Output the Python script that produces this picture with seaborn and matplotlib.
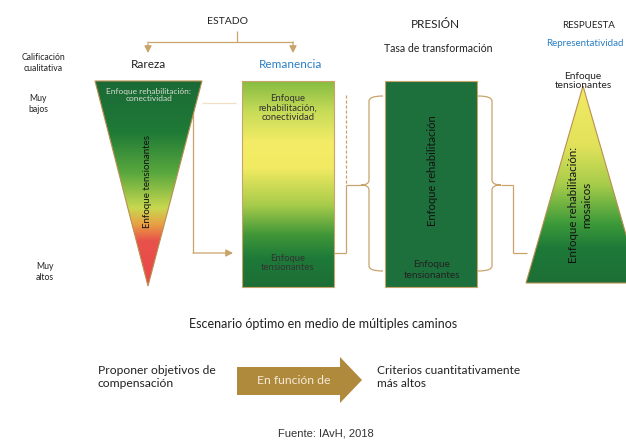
import matplotlib
matplotlib.use("Agg")
import matplotlib.pyplot as plt
import numpy as np
import seaborn as sns
from matplotlib.patches import Polygon, Rectangle, PathPatch
from matplotlib.path import Path
from matplotlib.colors import LinearSegmentedColormap

# --- content of the diagram ---
headers = ["ESTADO", "PRESIÓN", "RESPUESTA"]
sub_headers = ["Rareza", "Remanencia", "Tasa de transformación", "Representatividad"]
row_labels = ["Calificación\ncualitativa", "Muy\nbajos", "Muy\naltos"]
rareza_texts = ["Enfoque rehabilitación:\nconectividad", "Enfoque tensionantes"]
remanencia_texts = ["Enfoque\nrehabilitación,\nconectividad", "Enfoque\ntensionantes"]
presion_texts = ["Enfoque rehabilitación", "Enfoque\ntensionantes"]
respuesta_texts = ["Enfoque\ntensionantes", "Enfoque rehabilitación:\nmosaicos"]
bottom_title = "Escenario óptimo en medio de múltiples caminos"
bottom_left = "Proponer objetivos de\ncompensación"
arrow_label = "En función de"
bottom_right = "Criterios cuantitativamente\nmás altos"
source = "Fuente: IAvH, 2018"

# colour stops (position from top, colour)
rareza_stops = [(0.0, "#1b6a36"), (0.25, "#1f7a36"), (0.45, "#5aa83e"),
                (0.62, "#c8d850"), (0.70, "#e8a044"), (0.78, "#e8524a"), (1.0, "#e84848")]
remanencia_stops = [(0.0, "#86bc42"), (0.15, "#c8dc58"), (0.30, "#f4ec66"), (0.42, "#f2ea62"),
                    (0.60, "#a8cc4a"), (0.75, "#3f9638"), (0.86, "#1e7a38"), (1.0, "#1d6e36")]
respuesta_stops = [(0.0, "#f2ea64"), (0.30, "#e2e25a"), (0.50, "#a6cc4a"),
                   (0.70, "#3c9a3a"), (0.82, "#1e7a38"), (1.0, "#1d6e36")]
presion_color = "#1d6f3b"

GOLD = "#c8a46a"
BLUE = "#2a7fc4"
TXT = "#222222"

sns.set_theme(style="white")
plt.rcParams["font.family"] = ["Lato", "DejaVu Sans"]

fig = plt.figure(figsize=(6.26, 4.45), dpi=100)
ax = fig.add_axes([0, 0, 1, 1])


def gradient_shape(verts, stops, edge):
    poly = Polygon(verts, closed=True, facecolor="none", edgecolor=edge, lw=0.8, zorder=3)
    ax.add_patch(poly)
    xs = [v[0] for v in verts]
    ys = [v[1] for v in verts]
    cmap = LinearSegmentedColormap.from_list("g", stops)
    grad = np.linspace(0, 1, 256).reshape(-1, 1)
    im = ax.imshow(grad, cmap=cmap, extent=(min(xs), max(xs), max(ys), min(ys)),
                   origin="upper", aspect="auto", zorder=2, interpolation="bilinear")
    im.set_clip_path(poly)


def line(xs, ys, **kw):
    kw.setdefault("color", GOLD)
    kw.setdefault("lw", 0.9)
    ax.plot(xs, ys, solid_capstyle="butt", zorder=1, **kw)


def arrow(x0, y0, x1, y1):
    ax.annotate("", xy=(x1, y1), xytext=(x0, y0),
                arrowprops=dict(arrowstyle="-|>,head_length=0.35,head_width=0.18",
                                color=GOLD, lw=0.9, shrinkA=0, shrinkB=0))


def brace(x_end, x_mid, x_tip, y0, y1, ym):
    r = 5
    verts = [(x_end, y0), (x_mid, y0), (x_mid, y0 + r),
             (x_mid, ym - r), (x_mid, ym), (x_tip, ym),
             (x_mid, ym), (x_mid, ym + r),
             (x_mid, y1 - r), (x_mid, y1), (x_end, y1)]
    codes = [Path.MOVETO, Path.CURVE3, Path.CURVE3,
             Path.LINETO, Path.CURVE3, Path.CURVE3,
             Path.CURVE3, Path.CURVE3,
             Path.LINETO, Path.CURVE3, Path.CURVE3]
    ax.add_patch(PathPatch(Path(verts, codes), facecolor="none", edgecolor=GOLD, lw=0.9))


# --- headers ---
ax.text(228, 21, headers[0], ha="center", va="center", fontsize=7.5, color=TXT)
ax.text(435, 25, headers[1], ha="center", va="center", fontsize=8.5, color=TXT)
ax.text(589, 25, headers[2], ha="center", va="center", fontsize=7, color=TXT)
ax.text(148, 64, sub_headers[0], ha="center", va="center", fontsize=8.5, color=TXT)
ax.text(291, 64, sub_headers[1], ha="center", va="center", fontsize=8.5, color=BLUE)
ax.text(438, 48, sub_headers[2], ha="center", va="center", fontsize=7.6, color=TXT)
ax.text(585, 44, sub_headers[3], ha="center", va="center", fontsize=7.0, color=BLUE)
ax.text(43, 63, row_labels[0], ha="center", va="center", fontsize=6.2, color=TXT, linespacing=1.15)
ax.text(38, 104, row_labels[1], ha="center", va="center", fontsize=6.2, color=TXT, linespacing=1.2)
ax.text(45, 272, row_labels[2], ha="center", va="center", fontsize=6.2, color=TXT, linespacing=1.2)

# ESTADO tree
line([237, 237], [31, 42])
line([148, 293], [42, 42])
arrow(148, 42, 148, 53)
arrow(293, 42, 293, 53)

# --- Rareza (inverted triangle) ---
gradient_shape([(95, 81), (202, 81), (148, 286)], rareza_stops, "#b89050")
ax.text(149, 95, rareza_texts[0], ha="center", va="center", fontsize=6,
        color="#d8dccf", linespacing=1.1, zorder=4)
ax.text(148, 182, rareza_texts[1], ha="center", va="center", fontsize=7,
        color="#111111", rotation=90, zorder=4)

# connector Rareza -> Remanencia
line([202, 236], [103, 103], color="#f1e0c6")
line([193, 193], [103, 253])
arrow(193, 253, 233, 253)

# --- Remanencia (box) ---
gradient_shape([(242, 81), (334, 81), (334, 287), (242, 287)], remanencia_stops, GOLD)
ax.text(288, 108, remanencia_texts[0], ha="center", va="center", fontsize=6.8,
        color="#333333", linespacing=1.1, zorder=4)
ax.text(288, 263, remanencia_texts[1], ha="center", va="center", fontsize=6.8,
        color="#333333", linespacing=1.1, zorder=4)

# connector Remanencia -> brace
line([346, 346], [95, 185], ls=(0, (2.5, 1.5)))
line([346, 346], [185, 253])
line([334, 346], [253, 253])
line([346, 362], [185, 185])

# --- Presión (box) with braces ---
ax.add_patch(Rectangle((385, 81), 92, 206, facecolor=presion_color, edgecolor=GOLD, lw=0.8, zorder=2))
brace(383, 369, 361, 96, 271, 185)
brace(478, 492, 501, 96, 271, 185)
ax.text(432, 171, presion_texts[0], ha="center", va="center", fontsize=8,
        color="#111111", rotation=90, zorder=4)
ax.text(432, 270, presion_texts[1], ha="center", va="center", fontsize=7.2,
        color="#222222", linespacing=1.25, zorder=4)

# connector brace -> Respuesta
line([501, 513], [185, 185])
line([513, 513], [185, 253])
line([513, 527], [253, 253])

# --- Respuesta (triangle) ---
gradient_shape([(583, 86), (640, 283), (526, 283)], respuesta_stops, "#b89050")
ax.text(583, 81, respuesta_texts[0], ha="center", va="center", fontsize=7.3,
        color=TXT, linespacing=1.1, zorder=4)
ax.text(580, 205, respuesta_texts[1], ha="center", va="center", fontsize=8.3,
        color="#111111", rotation=90, linespacing=1.2, zorder=4)

# --- bottom section ---
ax.text(323, 324, bottom_title, ha="center", va="center", fontsize=9, color=TXT)
ax.text(98, 377, bottom_left, ha="left", va="center", fontsize=8.7, color=TXT, linespacing=1.3)
ax.add_patch(Polygon([(237, 367), (340, 367), (340, 357), (362, 380), (340, 403),
                      (340, 395), (237, 395)], closed=True, facecolor="#b08a3c",
                     edgecolor="none", zorder=2))
ax.text(294, 381, arrow_label, ha="center", va="center", fontsize=8.8, color="#f3ead6", zorder=3)
ax.text(377, 377, bottom_right, ha="left", va="center", fontsize=8.6, color=TXT, linespacing=1.3)

ax.text(326, 434, source, ha="center", va="center", fontsize=8, color="#333333",
        family=["Liberation Sans Narrow", "Liberation Sans", "DejaVu Sans"])

ax.set_xlim(0, 626)
ax.set_ylim(445, 0)
ax.axis("off")

fig.savefig("out.png", dpi=100, facecolor="white")
